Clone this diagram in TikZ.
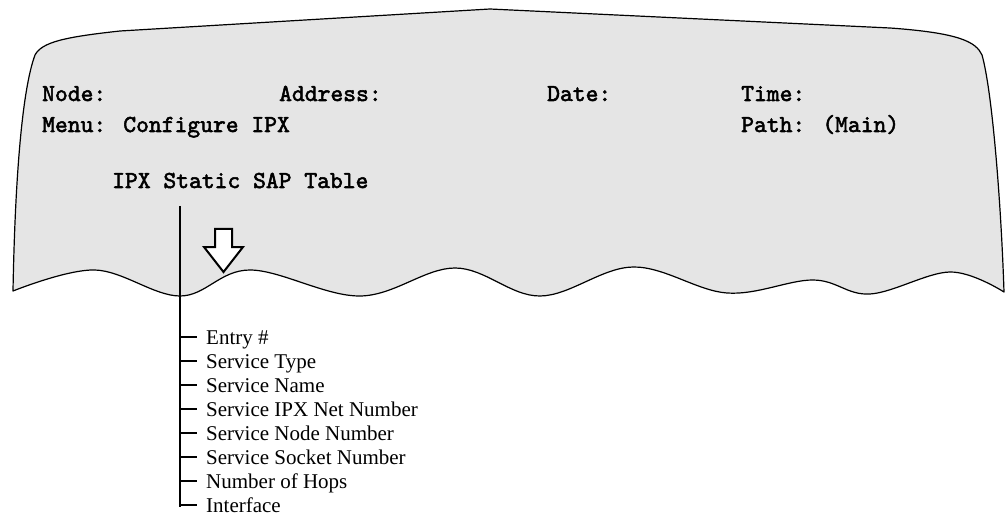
\documentclass[tikz,border=0pt]{standalone}
\usepackage{fontspec}
\setmainfont{Liberation Serif}
\newfontfamily\scrfont{lmmono10-regular}[Extension=.otf, FakeBold=2.2]
\definecolor{screengray}{RGB}{229,229,229}
\begin{document}
\begin{tikzpicture}[x=1pt,y=-1pt,
  scrtext/.style={font=\scrfont\fontsize{24.4}{26}\selectfont, anchor=base west, inner sep=0pt},
  itemtext/.style={font=\fontsize{21}{24}\selectfont, anchor=base west, inner sep=0pt},
  outline/.style={draw=black, line width=1.2pt, fill=screengray, line join=round},
  trunk/.style={draw=black, line width=2pt},
  tickline/.style={draw=black, line width=2pt},
  hollowarrow/.style={draw=black, line width=2pt, fill=white, line join=miter}]
\useasboundingbox (0,0) rectangle (1005,516);
% screen
\draw[outline] (13,291) .. controls (15,180) and (22,90) .. (35,55)
  .. controls (42,42) and (65,37) .. (120,31) -- (490,9) -- (890,28)
  .. controls (960,33) and (976,42) .. (982,55)
  .. controls (992,90) and (1001,200) .. (1004,292)
  -- plot[smooth, tension=0.6] coordinates {(1004,292) (950,272) (870,294) (813,280) (727,293) (633,267) (540,296) (455,268) (360,296) (250,270) (180,296) (95,270) (13,291)}
  -- cycle;
% screen texts
\node[scrtext] (node) at (42,101) {Node:};
\node[scrtext] (addr) at (279,101) {Address:};
\node[scrtext] (date) at (547,101) {Date:};
\node[scrtext] (time) at (741,101) {Time:};
\node[scrtext] (menu) at (42,132) {Menu: Configure IPX};
\node[scrtext] (path) at (741,132) {Path: (Main)};
\node[scrtext] (table) at (112,188) {IPX Static SAP Table};
% hollow arrow
\draw[hollowarrow] (215,229) -- (232,229) -- (232,247) -- (243,247) -- (223.5,272) -- (204,247) -- (215,247) -- cycle;
% trunk line
\coordinate (ttop) at (180,206);
\coordinate (tbot) at (180,506.5);
\draw[trunk] (ttop) -- (tbot);
% items
\foreach \i/\txt in {0/{Entry \#},1/{Service Type},2/{Service Name},3/{Service IPX Net Number},4/{Service Node Number},5/{Service Socket Number},6/{Number of Hops},7/{Interface}}{
  \node[itemtext] (item\i) at (206,344+24.14*\i) {\txt};
  \coordinate (tick\i) at (179,336.5+24.14*\i);
  \draw[tickline] (tick\i) -- ++(18,0);
}
\end{tikzpicture}
\end{document}
